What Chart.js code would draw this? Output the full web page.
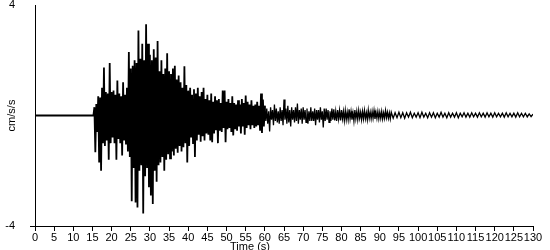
<!DOCTYPE html>
<html>
<head>
<meta charset="utf-8">
<script src="https://cdn.jsdelivr.net/npm/chart.js@4/dist/chart.umd.min.js"></script>
<style>
  html, body { margin: 0; padding: 0; background: #fff; }
  #wrap { width: 550px; height: 250px; }
</style>
</head>
<body>
<div id="wrap"><canvas id="c" width="550" height="250"></canvas></div>
<script>
// ---- data ----
const preTimes = [0, 15.25];
const preValues = [0, 0];

const mainStart = 15.5;
const mainStep = 0.25;
const mainValues = [
  0.30,-1.33,0.42,-0.60,0.70,-1.70,0.65,-2.00,
  1.00,-1.00,1.74,-1.10,0.85,-0.90,0.80,-1.60,
  1.90,-1.00,0.85,-0.80,0.90,-1.00,0.75,-1.60,
  1.27,-0.85,0.80,-1.00,0.70,-1.45,1.20,-0.90,
  0.75,-1.05,1.00,-1.30,2.30,-1.50,1.70,-3.10,
  1.80,-1.90,2.00,-3.15,1.90,-3.33,3.08,-2.00,
  2.05,-1.80,2.60,-3.55,2.00,-2.20,3.30,-1.90,
  2.60,-2.60,2.20,-2.90,2.00,-3.20,2.40,-2.00,
  2.10,-2.40,2.70,-1.80,1.60,-1.70,2.00,-1.50,
  1.50,-2.00,1.70,-1.60,2.25,-1.40,1.60,-1.55,
  1.50,-1.30,1.70,-1.45,1.80,-1.20,1.30,-1.35,
  1.45,-1.10,1.20,-1.30,1.00,-1.15,1.78,-1.00,
  1.10,-1.70,0.90,-1.10,1.00,-0.80,0.75,-1.00,
  0.95,-1.50,0.80,-0.90,1.00,-0.70,0.70,-0.95,
  0.85,-0.75,1.00,-0.90,0.60,-0.65,0.75,-0.70,
  0.55,-0.90,0.80,-0.97,0.50,-0.65,0.70,-0.50,
  0.55,-1.00,0.60,-0.55,0.45,-0.60,0.90,-0.45,
  0.90,-0.97,0.50,-0.50,0.60,-0.45,0.45,-0.60,
  0.70,-0.72,0.45,-0.50,0.40,-0.55,0.55,-0.40,
  0.40,-0.65,0.60,-0.40,0.45,-0.70,0.72,-0.45,
  0.50,-0.35,0.40,-0.50,0.55,-0.35,0.35,-0.45,
  0.40,-0.40,0.50,-0.35,0.35,-0.55,0.80,-0.63,
  0.58,-0.40
];

const codaStart = 60;
const codaStep = 0.25;
const codaValues = [
  0.35,-0.20,0.25,-0.30,0.15,-0.58,0.30,-0.15,
  0.20,-0.35,0.40,-0.20,0.25,-0.25,0.15,-0.30,
  0.30,-0.20,0.20,-0.35,0.58,-0.15,0.25,-0.30,
  0.35,-0.25,0.20,-0.40,0.30,-0.15,0.20,-0.25,
  0.30,-0.20,0.43,-0.30,0.20,-0.15,0.25,-0.30,
  0.30,-0.15,0.20,-0.25,0.25,-0.30,0.15,-0.20,
  0.30,-0.20,0.15,-0.20,0.25,-0.35,0.20,-0.15,
  0.20,-0.25,0.30,-0.15,0.15,-0.43,0.25,-0.20,
  0.25,-0.15,0.20,-0.25,0.15,-0.20,0.25,-0.15,
  0.22,-0.18,0.15,-0.20,0.20,-0.12,0.18,-0.18,
  0.20,-0.12,0.15,-0.18,0.18,-0.15,0.12,-0.15,
  0.22,-0.12,0.15,-0.15,0.10,-0.20,0.20,-0.12,
  0.15,-0.15,0.18,-0.10,0.12,-0.15,0.15,-0.12,
  0.18,-0.12,0.10,-0.15,0.20,-0.10,0.12,-0.12,
  0.15,-0.10,0.18,-0.12,0.12,-0.10,0.15,-0.12,
  0.12,-0.10,0.15,-0.12,0.10,-0.10,0.18,-0.08,
  0.12,-0.10,0.10,-0.12
];

const tailStart = 93;
const tailStep = 0.5;
const tailValues = [
  0.12,-0.10,0.10,-0.08,0.12,-0.08,0.10,-0.10,0.10,-0.06,
  0.12,-0.08,0.08,-0.06,0.10,-0.08,0.12,-0.06,0.08,-0.08,
  0.10,-0.06,0.10,-0.08,0.08,-0.06,0.12,-0.06,0.08,-0.08,
  0.10,-0.06,0.08,-0.06,0.10,-0.08,0.08,-0.05,0.10,-0.06,
  0.08,-0.06,0.10,-0.05,0.08,-0.06,0.10,-0.05,0.08,-0.06,
  0.10,-0.05,0.08,-0.06,0.10,-0.05,0.08,-0.05,0.08,-0.06,
  0.10,-0.05,0.08,-0.05,0.08,-0.06,0.10,-0.05,0.08,-0.05,
  0.08,-0.05,0.06,-0.04,0.05
];

const xMin = 0, xMax = 130, xTickStep = 5;
const yMin = -4, yMax = 4;
const yTickValues = [-4, 4];
const xTitle = 'Time (s)';
const yTitle = 'cm/s/s';

// ---- build points ----
const strongPoints = [];
preTimes.forEach((t, i) => strongPoints.push({ x: t, y: preValues[i] }));
mainValues.forEach((v, i) => strongPoints.push({ x: mainStart + i * mainStep, y: v }));
strongPoints.push({ x: codaStart, y: codaValues[0] });
const weakPoints = [];
codaValues.forEach((v, i) => weakPoints.push({ x: codaStart + i * codaStep, y: v }));
tailValues.forEach((v, i) => weakPoints.push({ x: tailStart + i * tailStep, y: v }));

const FONT = "'Liberation Sans', Arial, sans-serif";

const titlesPlugin = {
  id: 'axisTitles',
  afterDraw(chart) {
    const ctx = chart.ctx;
    const ca = chart.chartArea;
    ctx.save();
    ctx.fillStyle = '#000';
    ctx.font = '11px ' + FONT;
    ctx.textAlign = 'center';
    ctx.textBaseline = 'middle';
    ctx.fillText(xTitle, 250, 247);
    ctx.translate(12, (ca.top + ca.bottom) / 2);
    ctx.rotate(-Math.PI / 2);
    ctx.fillText(yTitle, 0, 0);
    ctx.restore();
  }
};

new Chart(document.getElementById('c'), {
  type: 'line',
  data: {
    datasets: [{
      data: strongPoints,
      borderColor: '#000',
      borderWidth: 1.8,
      pointRadius: 0,
      tension: 0,
      fill: false
    }, {
      data: weakPoints,
      borderColor: '#000',
      borderWidth: 1.3,
      pointRadius: 0,
      tension: 0,
      fill: false
    }]
  },
  options: {
    responsive: false,
    animation: false,
    layout: { padding: { top: 5, right: 17, left: 0, bottom: 0 } },
    plugins: { legend: { display: false }, tooltip: { enabled: false } },
    scales: {
      x: {
        type: 'linear',
        min: xMin, max: xMax,
        afterFit(scale) { scale.height = 24; },
        ticks: {
          stepSize: xTickStep,
          autoSkip: false,
          maxRotation: 0,
          padding: 0,
          color: '#000',
          font: { family: FONT, size: 11 }
        },
        grid: { drawOnChartArea: false, drawTicks: true, tickLength: 5, color: '#000' },
        border: { display: true, color: '#000', width: 1 }
      },
      y: {
        type: 'linear',
        min: yMin, max: yMax,
        afterFit(scale) { scale.width = 35; scale.paddingTop = 0; scale.paddingBottom = 0; },
        afterBuildTicks(scale) { scale.ticks = yTickValues.map(v => ({ value: v })); },
        ticks: {
          padding: 15,
          color: '#000',
          font: { family: FONT, size: 11 }
        },
        grid: {
          drawOnChartArea: false, drawTicks: true, tickLength: 5,
          color: (c) => (c.tick && c.tick.value === -4) ? '#000' : 'rgba(0,0,0,0)'
        },
        border: { display: true, color: '#000', width: 1 }
      }
    }
  },
  plugins: [titlesPlugin]
});
</script>
</body>
</html>
